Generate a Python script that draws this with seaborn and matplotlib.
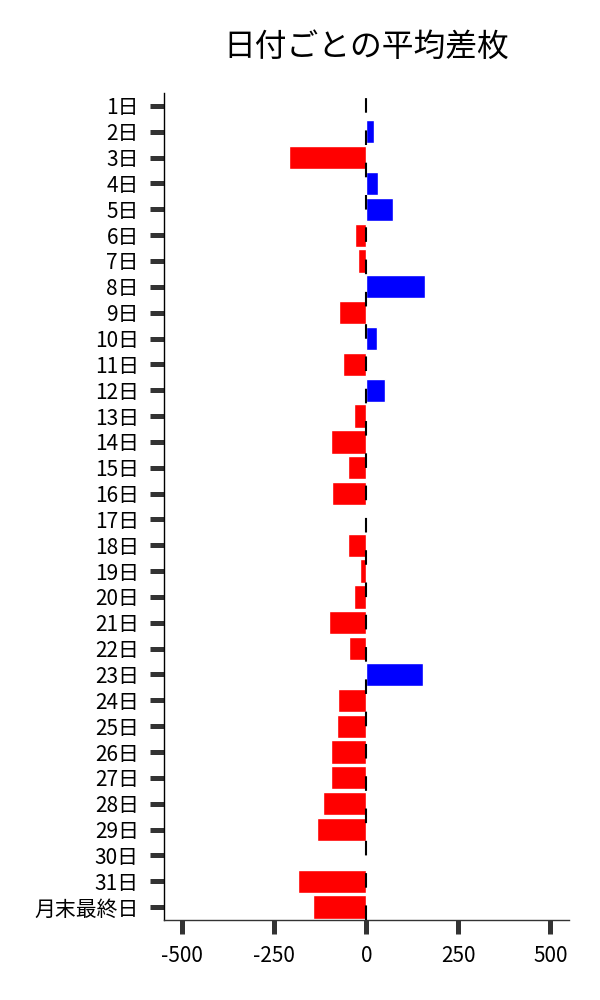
import matplotlib
matplotlib.use("Agg")
import matplotlib.pyplot as plt
import seaborn as sns
import pandas as pd

# --- data ---
days = [f"{i}日" for i in range(1, 32)] + ["月末最終日"]
avg_diff = [-2, 22, -210, 33, 73, -32, -23, 160, -75, 30, -64,
            52, -34, -97, -51, -94, 2, -51, -18, -34, -102, -48,
            155, -78, -80, -97, -97, -118, -135, 0, -186, -146]
x_ticks = [-500, -250, 0, 250, 500]

df = pd.DataFrame({"day": days, "diff": avg_diff})
df["sign"] = ["plus" if v > 0 else "minus" for v in df["diff"]]

sns.set_style("ticks")
plt.rcParams["font.family"] = ["Noto Sans CJK JP", "DejaVu Sans"]
plt.rcParams["axes.unicode_minus"] = False
plt.rcParams["text.color"] = "black"
plt.rcParams["xtick.labelcolor"] = "black"
plt.rcParams["ytick.labelcolor"] = "black"

fig, ax = plt.subplots(figsize=(6, 10), dpi=100)
fig.subplots_adjust(left=0.273, right=0.948, top=0.907, bottom=0.08)

sns.barplot(data=df, x="diff", y="day", hue="sign", order=days,
            palette={"plus": "#0000ff", "minus": "#ff0000"},
            dodge=False, width=0.9, legend=False, ax=ax, saturation=1)

ax.axvline(0, color="black", linewidth=1.5, linestyle=(0, (7, 8.5)), zorder=5)

ax.set_xlim(-550, 550)
ax.set_xticks(x_ticks)
ax.set_xticklabels([str(t) for t in x_ticks])
ax.set_xlabel("")
ax.set_ylabel("")
ax.set_title("日付ごとの平均差枚", fontsize=22.9, pad=27, color="black")

ax.tick_params(axis="both", length=10, width=3.6, color="#333333",
               labelsize=15, pad=8, labelcolor="black")
for side in ["top", "right"]:
    ax.spines[side].set_visible(False)
ax.spines["left"].set_color("black")
ax.spines["bottom"].set_color("#333333")
ax.spines["left"].set_linewidth(1)
ax.spines["bottom"].set_linewidth(1)

fig.savefig("out.png")
